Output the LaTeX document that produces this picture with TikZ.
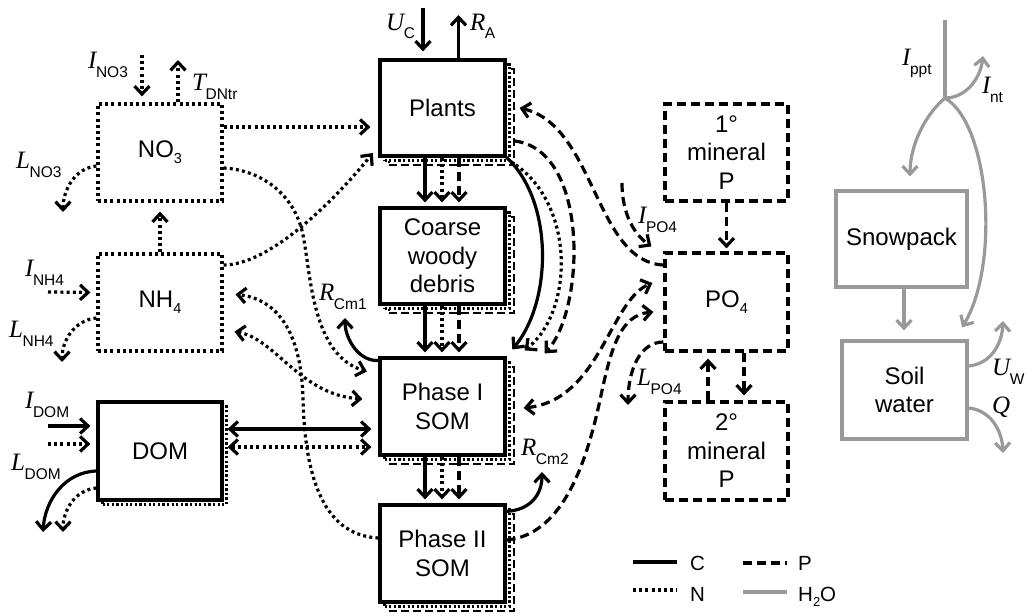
\documentclass[tikz,border=0pt]{standalone}
\usepackage{fontspec}
\setmainfont{Liberation Sans}
\newfontfamily\fluxserif{Liberation Serif}
\usetikzlibrary{arrows.meta,calc}
\definecolor{h2o}{HTML}{999999}
\newcommand\flx[2]{{\fontsize{25}{25}\selectfont\fluxserif\itshape #1}\kern-0.5pt\raisebox{-9pt}{\fontsize{15.5}{15.5}\selectfont #2}}
\newcommand\sbs[1]{\raisebox{-6pt}{\fontsize{14.5}{14.5}\selectfont #1}}
\begin{document}
\begin{tikzpicture}[x=1pt,y=-1pt,
  >={Straight Barb[length=8pt,width=15pt]},
  box/.style={draw, fill=white, inner sep=0pt, align=center, font=\fontsize{24}{28.5}\selectfont, minimum width=125pt, minimum height=97pt},
  cl/.style={line width=3.2pt},
  nl/.style={line width=3.2pt, dash pattern=on 3pt off 3.2pt},
  pl/.style={line width=3.2pt, dash pattern=on 9pt off 5pt},
  wl/.style={line width=3.2pt, draw=h2o},
  nsh/.style={line width=2.3pt, dash pattern=on 2.3pt off 2.3pt, xshift=4.5pt, yshift=-4.5pt},
  psh/.style={line width=2.3pt, dash pattern=on 8pt off 4pt, xshift=9pt, yshift=-9pt},
  lab/.style={anchor=base west, inner sep=0pt},
  leg/.style={anchor=base west, inner sep=0pt, font=\fontsize{20.5}{20.5}\selectfont}]
\useasboundingbox (0,0) rectangle (1027,613);

% ---------- boxes ----------
\node[box,psh,minimum height=96pt] at (442.5,108) {};
\node[box,nsh,minimum height=96pt] at (442.5,108) {};
\node[box,cl,minimum height=96pt] (plants) at (442.5,108) {Plants};

\node[box,psh,minimum height=96pt] at (442.5,256) {};
\node[box,nsh,minimum height=96pt] at (442.5,256) {};
\node[box,cl,minimum height=96pt] (cwd) at (442.5,256) {Coarse\\woody\\debris};

\node[box,psh] at (442.5,406.5) {};
\node[box,nsh] at (442.5,406.5) {};
\node[box,cl] (ph1) at (442.5,406.5) {Phase I\\SOM};

\node[box,psh] at (442.5,553.5) {};
\node[box,nsh] at (442.5,553.5) {};
\node[box,cl] (ph2) at (442.5,553.5) {Phase II\\SOM};

\node[box,nsh,minimum width=124pt,minimum height=98pt] at (160,451) {};
\node[box,cl,minimum width=124pt,minimum height=98pt] (dom) at (160,451) {DOM};

\node[box,nl,minimum width=124pt] (no3) at (160,152.5) {NO\sbs{3}};
\node[box,nl,minimum width=124pt] (nh4) at (160,302.5) {NH\sbs{4}};

\node[box,pl,minimum width=123pt] (min1) at (726.5,152.5) {1°\\mineral\\P};
\node[box,pl,minimum width=123pt,minimum height=98pt] (po4) at (726.5,302) {PO\sbs{4}};
\node[box,pl,minimum width=123pt,minimum height=98pt] (min2) at (726.5,451) {2°\\mineral\\P};

\node[box,wl,minimum width=131pt,minimum height=96pt] (snow) at (901.5,239) {Snowpack};
\node[box,wl,minimum width=125pt,minimum height=98pt] (soil) at (904.5,390) {Soil\\water};

% ---------- free ends ----------
\coordinate (ucin) at (423,8);
\coordinate (raout) at (458.5,15);
\coordinate (ino3) at (142,55);
\coordinate (tdn) at (178,60);
\coordinate (lno3) at (63,212);
\coordinate (inh4) at (48,292);
\coordinate (lnh4) at (62,362);
\coordinate (idomc) at (48,426);
\coordinate (idomn) at (48,444);
\coordinate (ldomc) at (43,532);
\coordinate (ldomn) at (63,532);
\coordinate (rcm1) at (345,318);
\coordinate (rcm2) at (542,472);
\coordinate (ipo4) at (622,183);
\coordinate (lpo4) at (628,405);
\coordinate (ppt) at (945,20);
\coordinate (br) at (945,98);
\coordinate (int) at (983,56);
\coordinate (uw) at (1003,321);
\coordinate (q) at (1003,453);

% ---------- C flows ----------
\draw[cl,->,shorten >=7pt] (ucin) -- ([xshift=-19.5pt]plants.north);
\draw[cl,->] ([xshift=16pt]plants.north) -- (raout);
\draw[cl,->,shorten >=4pt] ([xshift=-17.5pt]plants.south) -- ([xshift=-17.5pt]cwd.north);
\draw[nl,->,shorten >=4pt] ([xshift=-0.5pt]plants.south) -- ([xshift=-0.5pt]cwd.north);
\draw[pl,->,shorten >=4pt] ([xshift=16.5pt]plants.south) -- ([xshift=16.5pt]cwd.north);
\draw[cl,->,shorten >=4pt] ([xshift=-17.5pt]cwd.south) -- ([xshift=-17.5pt]ph1.north);
\draw[nl,->,shorten >=4pt] ([xshift=-0.5pt]cwd.south) -- ([xshift=-0.5pt]ph1.north);
\draw[pl,->,shorten >=4pt] ([xshift=16.5pt]cwd.south) -- ([xshift=16.5pt]ph1.north);
\draw[cl,->,shorten >=4pt] ([xshift=-17.5pt]ph1.south) -- ([xshift=-17.5pt]ph2.north);
\draw[nl,->,shorten >=4pt] ([xshift=-0.5pt]ph1.south) -- ([xshift=-0.5pt]ph2.north);
\draw[pl,->,shorten >=4pt] ([xshift=16.5pt]ph1.south) -- ([xshift=16.5pt]ph2.north);

\draw[cl,->,shorten >=9pt] (plants.south east) .. controls (553,200) and (553,300) .. (ph1.north east);
\draw[nl,->] ([xshift=4pt,yshift=-4pt]plants.south east) .. controls (575,200) and (575,310) .. ([xshift=18pt,yshift=6pt]ph1.north east);
\draw[pl,->] ([xshift=8pt,yshift=-33pt]plants.east) .. controls (590,150) and (585,310) .. ([xshift=38pt,yshift=3pt]ph1.north east);

\draw[cl,->] ([yshift=-4pt]ph1.north west) .. controls (360,362) and (345,340) .. (rcm1);
\draw[cl,->] ([yshift=-8pt]ph2.north east) .. controls (530,510) and (542,495) .. (rcm2);

\draw[cl,<->,shorten <=4pt,shorten >=7pt] ([yshift=22pt]dom.east) -- ([yshift=-22.5pt]ph1.west);
\draw[nl,<->,shorten <=4pt,shorten >=7pt] ([yshift=4pt]dom.east) -- ([yshift=-40.5pt]ph1.west);
\draw[cl,->,shorten >=6pt] (idomc) -- ([yshift=25pt]dom.west);
\draw[nl,->,shorten >=6pt] (idomn) -- ([yshift=7pt]dom.west);
\draw[cl,->] ([yshift=-20pt]dom.west) .. controls (65,472) and (45,500) .. (ldomc);
\draw[nl,->] ([yshift=-37pt]dom.west) .. controls (75,490) and (63,510) .. (ldomn);

% ---------- N flows ----------
\draw[nl,->,shorten >=6pt] (ino3) -- ([xshift=-18pt]no3.north);
\draw[nl,->] ([xshift=18pt]no3.north) -- (tdn);
\draw[nl,->] ([yshift=-13.5pt]no3.west) .. controls (75,168) and (63,190) .. (lno3);
\draw[nl,->,shorten >=9pt] (nh4.north) -- (no3.south);
\draw[nl,->,shorten >=6pt] (inh4) -- ([yshift=10pt]nh4.west);
\draw[nl,->] ([yshift=-15.5pt]nh4.west) .. controls (75,320) and (62,340) .. (lnh4);
\draw[nl,->,shorten >=8pt] ([yshift=25.5pt]no3.east) -- ([yshift=-19pt]plants.west);
\draw[nl,->,shorten >=9pt] ([yshift=37.5pt]nh4.east) .. controls (270,265) and (335,200) .. ([yshift=-38pt]plants.west);
\draw[nl,->,shorten >=12pt] ([yshift=-15.5pt]no3.east) .. controls (262,170) and (295,195) .. (303,235) .. controls (311,275) and (312,355) .. ([yshift=31.5pt]ph1.west);
\draw[nl,->,shorten >=12pt] ([yshift=15.5pt]ph2.west) .. controls (320,535) and (305,470) .. (303,400) .. controls (302,345) and (285,300) .. ([yshift=9.5pt]nh4.east);
\draw[nl,<->,shorten <=11pt,shorten >=16pt] ([yshift=-27.5pt]nh4.east) .. controls (275,338) and (300,395) .. ([yshift=6.5pt]ph1.west);

% ---------- P flows ----------
\draw[pl,->] ([yshift=37pt]po4.west) .. controls (595,262) and (595,125) .. ([xshift=13pt]plants.east);
\draw[pl,<->] ([xshift=17pt,yshift=-1.5pt]ph1.east) .. controls (600,400) and (610,300) .. ([xshift=-11pt,yshift=19pt]po4.west);
\draw[pl,->] ([yshift=13.5pt]ph2.east) .. controls (560,535) and (585,470) .. (600,400) .. controls (611,348) and (620,315) .. ([xshift=-10pt,yshift=-10pt]po4.west);
\draw[pl,->] (ipo4) .. controls (622,215) and (635,235) .. ([xshift=-12pt,yshift=5pt]po4.north west);
\draw[pl,->] ([yshift=-40pt]po4.west) .. controls (640,342) and (628,370) .. (lpo4);
\draw[pl,->,shorten >=3pt] (min1.south) -- (po4.north);
\draw[pl,->,shorten >=6pt] ([xshift=-18.5pt]min2.north) -- ([xshift=-18.5pt]po4.south);
\draw[pl,->,shorten >=5pt] ([xshift=17.5pt]po4.south) -- ([xshift=17.5pt]min2.north);

% ---------- H2O flows ----------
\draw[wl] (ppt) -- (br);
\draw[wl,->] (br) .. controls (965,98) and (980,80) .. (int);
\draw[wl,->] (br) .. controls (925,115) and (910,145) .. ([xshift=8.5pt,yshift=13pt]snow.north);
\draw[wl,->] (br) .. controls (990,125) and (1000,265) .. ([xshift=57.5pt,yshift=12pt]soil.north);
\draw[wl,->,shorten >=9pt] ([xshift=2.5pt]snow.south) -- ([xshift=-0.5pt]soil.north);
\draw[wl,->] ([yshift=24pt]soil.east) .. controls (990,364) and (1002,345) .. (uw);
\draw[wl,->] ([yshift=-18pt]soil.east) .. controls (990,410) and (1002,430) .. (q);

% ---------- flux labels ----------
\node[lab] (lUC) at (386,30) {\flx{U}{C}};
\node[lab] (lRA) at (470,30) {\flx{R}{A}};
\node[lab] (lINO3) at (88,68) {\flx{I}{NO3}};
\node[lab] (lTDN) at (192,90) {\flx{T}{DNtr}};
\node[lab] (lLNO3) at (16,168) {\flx{L}{NO3}};
\node[lab] (lINH4) at (25,276) {\flx{I}{NH4}};
\node[lab] (lLNH4) at (9,337) {\flx{L}{NH4}};
\node[lab] (lIDOM) at (25,408) {\flx{I}{DOM}};
\node[lab] (lLDOM) at (11,470) {\flx{L}{DOM}};
\node[lab] (lRCm1) at (319,300) {\flx{R}{Cm1}};
\node[lab] (lRCm2) at (521,455) {\flx{R}{Cm2}};
\node[lab] (lIPO4) at (638,223) {\flx{I}{PO4}};
\node[lab] (lLPO4) at (637,385) {\flx{L}{PO4}};
\node[lab] (lIppt) at (902,65) {\flx{I}{ppt}};
\node[lab] (lInt) at (982,93) {\flx{I}{nt}};
\node[lab] (lUW) at (992,375) {\flx{U}{W}};
\node[lab] (lQ) at (992,413) {{\fontsize{25}{25}\selectfont\fluxserif\itshape Q}};

% ---------- legend ----------
\coordinate (lc1) at (633,562); \coordinate (lc2) at (677,562);
\coordinate (ln1) at (633,590); \coordinate (ln2) at (677,590);
\coordinate (lp1) at (743,563); \coordinate (lp2) at (787,563);
\coordinate (lw1) at (743,592); \coordinate (lw2) at (787,592);
\draw[cl] (lc1) -- (lc2);
\draw[nl] (ln1) -- (ln2);
\draw[pl] (lp1) -- (lp2);
\draw[wl] (lw1) -- (lw2);
\node[leg] (tC) at (690,570.5) {C};
\node[leg] (tN) at (690,601.5) {N};
\node[leg] (tP) at (798,570.5) {P};
\node[leg] (tW) at (798,601.5) {H\raisebox{-5pt}{\fontsize{13}{13}\selectfont 2}O};
\end{tikzpicture}
\end{document}
